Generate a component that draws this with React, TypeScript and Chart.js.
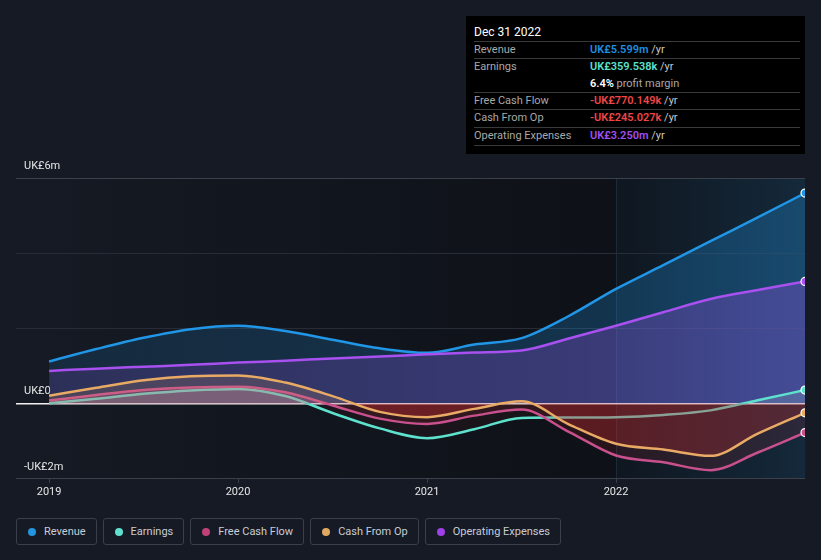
import React, { useEffect, useRef } from 'react';
import { Chart, registerables } from 'chart.js';

Chart.register(...registerables);

// Quarter positions (decimal years)
const periods = [2019, 2019.25, 2019.5, 2019.75, 2020, 2020.25, 2020.5, 2020.75, 2021, 2021.25, 2021.5, 2021.75, 2022, 2022.25, 2022.5, 2022.75, 2023];
// Values in UK£ millions
const revenue = [1.12, 1.45, 1.75, 1.98, 2.07, 1.93, 1.70, 1.47, 1.35, 1.57, 1.74, 2.33, 3.05, 3.68, 4.32, 4.95, 5.599];
const earnings = [0.01, 0.13, 0.26, 0.35, 0.39, 0.20, -0.25, -0.66, -0.92, -0.68, -0.38, -0.37, -0.36, -0.30, -0.18, 0.09, 0.3595];
const freeCashFlow = [0.08, 0.23, 0.36, 0.43, 0.45, 0.30, -0.05, -0.40, -0.54, -0.32, -0.16, -0.75, -1.38, -1.56, -1.77, -1.30, -0.770];
const cashFromOp = [0.21, 0.42, 0.62, 0.73, 0.75, 0.56, 0.20, -0.22, -0.36, -0.14, 0.06, -0.55, -1.07, -1.22, -1.39, -0.80, -0.245];
const operatingExpenses = [0.87, 0.93, 0.98, 1.03, 1.09, 1.14, 1.20, 1.25, 1.31, 1.36, 1.41, 1.73, 2.07, 2.43, 2.78, 3.02, 3.25];

const xTicks = [2019, 2020, 2021, 2022];
const yTicks = [-2, 0, 2, 4, 6];
const yTickLabels: Record<string, string> = { '6': 'UK£6m', '0': 'UK£0', '-2': '-UK£2m' };
const xMin = 2018.825;
const xMax = 2023;
const hoverStart = 2022;

const legendItems = [
  { label: 'Revenue', color: '#2394df' },
  { label: 'Earnings', color: '#5fe0d0' },
  { label: 'Free Cash Flow', color: '#c0407a' },
  { label: 'Cash From Op', color: '#e0a860' },
  { label: 'Operating Expenses', color: '#a040e8' },
];

const FONT = 'Roboto, "Noto Sans", sans-serif';

const bgPlugin = {
  id: 'plotBg',
  beforeDraw(chart: any) {
    const { ctx, chartArea: a, scales } = chart;
    if (!a) return;
    const hx = scales.x.getPixelForValue(hoverStart);
    ctx.save();
    const g1 = ctx.createLinearGradient(a.left, 0, hx, 0);
    g1.addColorStop(0, '#151a24');
    g1.addColorStop(1, '#0e1117');
    ctx.fillStyle = g1;
    ctx.fillRect(a.left, a.top, hx - a.left, a.bottom - a.top);
    const g2 = ctx.createLinearGradient(hx, 0, a.right, 0);
    g2.addColorStop(0, '#0f1720');
    g2.addColorStop(1, '#14293b');
    ctx.fillStyle = g2;
    ctx.fillRect(hx, a.top, a.right - hx, a.bottom - a.top);
    ctx.strokeStyle = '#1d2a3a';
    ctx.lineWidth = 1;
    ctx.beginPath();
    ctx.moveTo(Math.round(hx) + 0.5, a.top);
    ctx.lineTo(Math.round(hx) + 0.5, a.bottom);
    ctx.stroke();
    ctx.restore();
  },
};

function hGrad(chart: any, rgb: string, a0: number, a1: number) {
  const { ctx, chartArea: a } = chart;
  const g = ctx.createLinearGradient(a.left, 0, a.right, 0);
  g.addColorStop(0, `rgba(${rgb},${a0})`);
  g.addColorStop(1, `rgba(${rgb},${a1})`);
  return g;
}

export default function App() {
  const canvasRef = useRef<HTMLCanvasElement | null>(null);

  useEffect(() => {
    document.documentElement.style.background = '#151a24';
    document.body.style.background = '#151a24';
    const canvas = canvasRef.current;
    if (!canvas) return;
    const last = periods.length - 1;
    const mk = (label: string, values: number[], color: string) => ({
      label,
      data: periods.map((p, i) => ({ x: p, y: values[i] })),
      borderColor: color,
      backgroundColor: color,
      borderWidth: 2.5,
      cubicInterpolationMode: 'monotone' as const,
      pointRadius: (c: any) => (c.dataIndex === last ? 4 : 0),
      pointHoverRadius: 0,
      pointBackgroundColor: color,
      pointBorderColor: '#ffffff',
      pointBorderWidth: 1.2,
      fill: { target: 'origin' },
    });

    // drawing order: last dataset first
    const datasets: any[] = [
      mk('Cash From Op', cashFromOp, '#e8aa64'),
      mk('Free Cash Flow', freeCashFlow, '#c8508c'),
      mk('Earnings', earnings, '#5ee2ce'),
      mk('Operating Expenses', operatingExpenses, '#a850f0'),
      mk('Revenue', revenue, '#2196e6'),
    ];

    const chart = new Chart(canvas, {
      type: 'line',
      data: { datasets },
      plugins: [bgPlugin],
      options: {
        animation: false,
        responsive: true,
        maintainAspectRatio: false,
        layout: { padding: { left: 8, right: 8, top: 170, bottom: 6 } },
        plugins: { legend: { display: false }, tooltip: { enabled: false } },
        events: [],
        scales: {
          x: {
            type: 'linear',
            min: xMin,
            max: xMax,
            afterBuildTicks: (s: any) => {
              s.ticks = xTicks.map((v) => ({ value: v }));
            },
            grid: { drawOnChartArea: false, drawTicks: true, tickLength: 4, color: '#3b404b' },
            border: { display: false },
            ticks: {
              color: '#e6e6e6',
              font: { family: FONT, size: 11 },
              padding: 3,
              maxRotation: 0,
              callback: (v: any) => String(v),
            },
          },
          y: {
            type: 'linear',
            min: -2,
            max: 6,
            afterBuildTicks: (s: any) => {
              s.ticks = yTicks.map((v) => ({ value: v }));
            },
            afterFit: (s: any) => {
              s.width = 0;
            },
            grid: {
              drawTicks: false,
              color: (c: any) => {
                const v = c.tick?.value;
                if (v === 0) return '#f0f0f0';
                if (v === 6 || v === -2) return '#3b404b';
                return '#272c36';
              },
              lineWidth: (c: any) => (c.tick?.value === 0 ? 1.5 : 1),
            },
            border: { display: false },
            ticks: {
              mirror: true,
              padding: 8,
              labelOffset: -12,
              color: '#e6e6e6',
              font: { family: FONT, size: 11 },
              callback: (v: any) => yTickLabels[String(v)] ?? '',
            },
          },
        },
      },
    });

    // gradient fills once chart area is known
    const fills: Record<string, any> = {
      Revenue: { above: hGrad(chart, '33,150,230', 0.13, 0.3), below: 'rgba(0,0,0,0)' },
      'Operating Expenses': { above: hGrad(chart, '168,80,240', 0.14, 0.3), below: 'rgba(0,0,0,0)' },
      Earnings: { above: 'rgba(150,200,200,0.22)', below: 'rgba(220,60,60,0.05)' },
      'Free Cash Flow': { above: 'rgba(200,80,140,0.24)', below: hGrad(chart, '200,40,55', 0.15, 0.13) },
      'Cash From Op': { above: 'rgba(232,170,100,0.16)', below: hGrad(chart, '220,45,45', 0.45, 0.22) },
    };
    chart.data.datasets.forEach((d: any) => {
      d.fill = { target: 'origin', ...fills[d.label] };
    });
    chart.update('none');

    return () => chart.destroy();
  }, []);

  const label: React.CSSProperties = { position: 'absolute', left: 8, color: '#a8a8a8', lineHeight: '14px' };
  const value: React.CSSProperties = { position: 'absolute', left: 124, lineHeight: '14px' };
  const sep = (top: number) => (
    <div style={{ position: 'absolute', left: 8, width: 326, top, height: 1, background: '#3a3a3a' }} />
  );
  const yr = <span style={{ color: '#c8c8c8' }}> /yr</span>;

  return (
    <div style={{ width: 805, fontFamily: FONT }}>
      <div style={{ position: 'relative', width: 805, height: 500 }}>
        <canvas ref={canvasRef} />
        <div
          style={{
            position: 'absolute',
            left: 458,
            top: 8,
            width: 339,
            height: 138,
            background: '#000000',
            fontSize: 11,
            color: '#fff',
          }}
        >
          <div style={{ position: 'absolute', left: 8, top: 9, fontSize: 12, lineHeight: '14px', color: '#ffffff' }}>Dec 31 2022</div>
          {sep(25)}
          <div style={{ ...label, top: 27 }}>Revenue</div>
          <div style={{ ...value, top: 27 }}><span style={{ color: '#1e8fe0', fontWeight: 600 }}>UK£5.599m</span>{yr}</div>
          {sep(42)}
          <div style={{ ...label, top: 44 }}>Earnings</div>
          <div style={{ ...value, top: 44 }}><span style={{ color: '#5ce0cc', fontWeight: 600 }}>UK£359.538k</span>{yr}</div>
          <div style={{ ...value, top: 61 }}><span style={{ color: '#ffffff', fontWeight: 600 }}>6.4%</span><span style={{ color: '#a8a8a8' }}> profit margin</span></div>
          {sep(76)}
          <div style={{ ...label, top: 78 }}>Free Cash Flow</div>
          <div style={{ ...value, top: 78 }}><span style={{ color: '#f04646', fontWeight: 600 }}>-UK£770.149k</span>{yr}</div>
          {sep(93)}
          <div style={{ ...label, top: 95 }}>Cash From Op</div>
          <div style={{ ...value, top: 95 }}><span style={{ color: '#f04646', fontWeight: 600 }}>-UK£245.027k</span>{yr}</div>
          {sep(111)}
          <div style={{ ...label, top: 113 }}>Operating Expenses</div>
          <div style={{ ...value, top: 113 }}><span style={{ color: '#a04ff0', fontWeight: 600 }}>UK£3.250m</span>{yr}</div>
          {sep(129)}
        </div>
      </div>
      <div style={{ display: 'flex', gap: 6, marginTop: 10, marginLeft: 8 }}>
        {legendItems.map((it) => (
          <div
            key={it.label}
            style={{
              display: 'flex',
              alignItems: 'center',
              height: 25,
              padding: '0 10px 0 11px',
              border: '1px solid #3a3f4a',
              borderRadius: 3,
              color: '#c8ccd4',
              fontSize: 11,
            }}
          >
            <span style={{ width: 8, height: 8, borderRadius: 4, background: it.color, marginRight: 8, display: 'inline-block' }} />
            {it.label}
          </div>
        ))}
      </div>
    </div>
  );
}
